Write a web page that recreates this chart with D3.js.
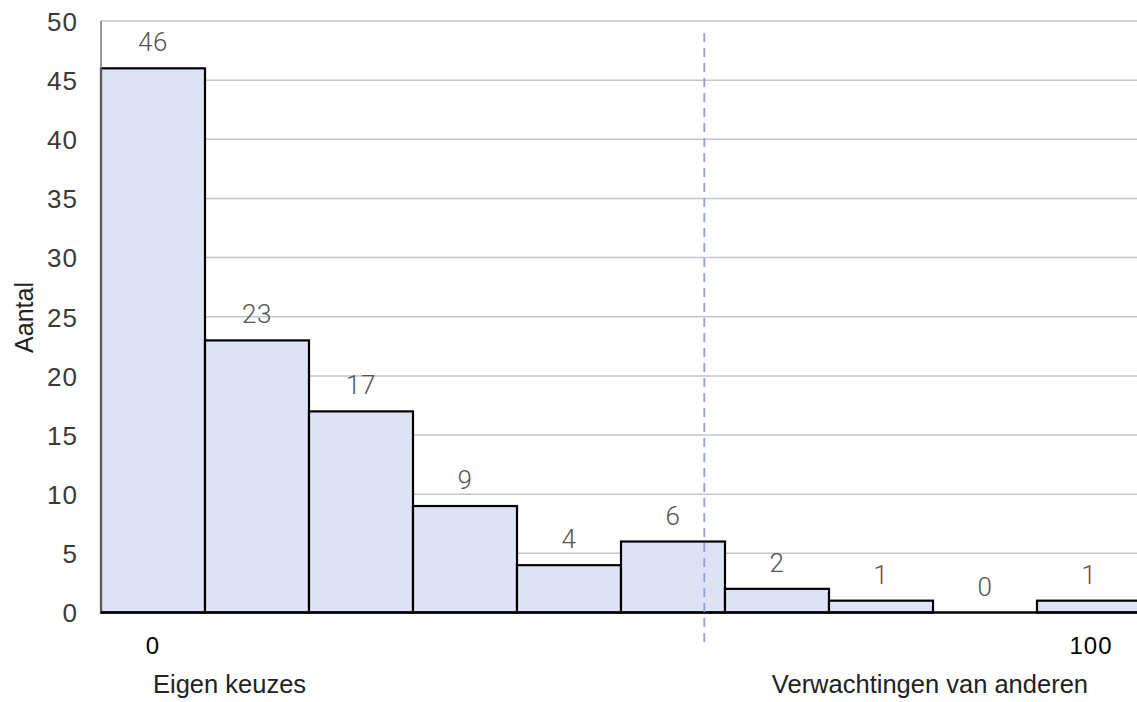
<!DOCTYPE html>
<html>
<head>
<meta charset="utf-8">
<script src="https://cdn.jsdelivr.net/npm/d3@7"></script>
<style>
  html, body { margin: 0; padding: 0; background: #fff; }
  svg { display: block; }
</style>
</head>
<body>
<svg id="chart" width="1137" height="702"></svg>
<script>
// Histogram data: ten bins on a 0–100 scale
const bins = [0, 1, 2, 3, 4, 5, 6, 7, 8, 9];
const counts = [46, 23, 17, 9, 4, 6, 2, 1, 0, 1];
const yTicks = [0, 5, 10, 15, 20, 25, 30, 35, 40, 45, 50];
const xEndLabels = [
  { value: 0, text: "0", caption: "Eigen keuzes" },
  { value: 100, text: "100", caption: "Verwachtingen van anderen" }
];
const markerValue = 58.9;

(function () {
  const svg = d3.select("#chart");
  const plotLeft = 101, plotRight = 1141, plotTop = 21, plotBottom = 612.5;

  const x = d3.scaleBand().domain(bins).range([plotLeft, plotRight]).paddingInner(0).paddingOuter(0);
  const y = d3.scaleLinear().domain([0, 50]).range([plotBottom, plotTop]);
  // Numeric scale running from the centre of the first bin to the centre of the last
  const xv = d3.scaleLinear().domain([0, 100])
    .range([x(bins[0]) + x.bandwidth() / 2, x(bins[bins.length - 1]) + x.bandwidth() / 2]);

  const sans = "'Liberation Sans', Arial, Helvetica, sans-serif";

  // Horizontal gridlines
  svg.append("g")
    .selectAll("line")
    .data(yTicks.filter(d => d > 0))
    .join("line")
    .attr("x1", plotLeft).attr("x2", 1137)
    .attr("y1", d => y(d)).attr("y2", d => y(d))
    .attr("stroke", "#c6c6c6").attr("stroke-width", 1.5);

  // Y axis tick labels
  const yAxis = d3.axisLeft(y).tickValues(yTicks).tickSize(0).tickPadding(0);
  const gy = svg.append("g").attr("transform", "translate(78,0)").call(yAxis);
  gy.select(".domain").remove();
  gy.selectAll("text")
    .attr("font-family", sans).attr("font-size", 26).attr("fill", "#3a3a3a")
    .attr("letter-spacing", 1)
    .attr("dy", "0.36em");

  // Bars
  svg.append("g")
    .selectAll("rect")
    .data(bins)
    .join("rect")
    .attr("x", d => x(d))
    .attr("y", d => y(counts[d]))
    .attr("width", x.bandwidth())
    .attr("height", d => y(0) - y(counts[d]))
    .attr("fill", "#dfe2f5")
    .attr("stroke", "#000").attr("stroke-width", 2.2);

  // Value labels above bars
  svg.append("g")
    .selectAll("text")
    .data(bins)
    .join("text")
    .attr("x", d => x(d) + x.bandwidth() / 2)
    .attr("y", d => y(counts[d]) - 17)
    .attr("text-anchor", "middle")
    .attr("font-family", "Roboto, sans-serif").attr("font-weight", 300)
    .attr("font-size", 26).attr("fill", "#555")
    .attr("letter-spacing", 0.5)
    .text(d => counts[d]);

  // Left axis line and baseline
  svg.append("line")
    .attr("x1", plotLeft).attr("x2", plotLeft).attr("y1", plotTop).attr("y2", plotBottom)
    .attr("stroke", "#777").attr("stroke-width", 1.5);
  svg.append("line")
    .attr("x1", plotLeft).attr("x2", 1137).attr("y1", plotBottom).attr("y2", plotBottom)
    .attr("stroke", "#000").attr("stroke-width", 2.5);

  // Dashed marker line
  svg.append("line")
    .attr("x1", xv(markerValue)).attr("x2", xv(markerValue))
    .attr("y1", 33).attr("y2", 643)
    .attr("stroke", "#8c9fe0").attr("stroke-width", 1.8)
    .attr("stroke-dasharray", "9,6");

  // X end labels
  svg.append("g")
    .selectAll("text")
    .data(xEndLabels)
    .join("text")
    .attr("x", d => xv(d.value) + (d.value === 100 ? 2 : 0))
    .attr("y", 653.5)
    .attr("text-anchor", "middle")
    .attr("font-family", sans).attr("font-size", 24).attr("fill", "#000")
    .attr("letter-spacing", 1)
    .text(d => d.text);

  // Captions under the end labels
  svg.append("g")
    .selectAll("text")
    .data(xEndLabels)
    .join("text")
    .attr("x", d => d.value === 0 ? xv(d.value) : xv(d.value) - 1)
    .attr("y", 693)
    .attr("text-anchor", d => d.value === 0 ? "start" : "end")
    .attr("font-family", sans).attr("font-size", 25.5).attr("fill", "#222")
    .text(d => d.caption);

  // Y axis title
  svg.append("text")
    .attr("transform", "translate(33,317.5) rotate(-90)")
    .attr("text-anchor", "middle")
    .attr("font-family", sans).attr("font-size", 25).attr("fill", "#222")
    .text("Aantal");
})();
</script>
</body>
</html>
